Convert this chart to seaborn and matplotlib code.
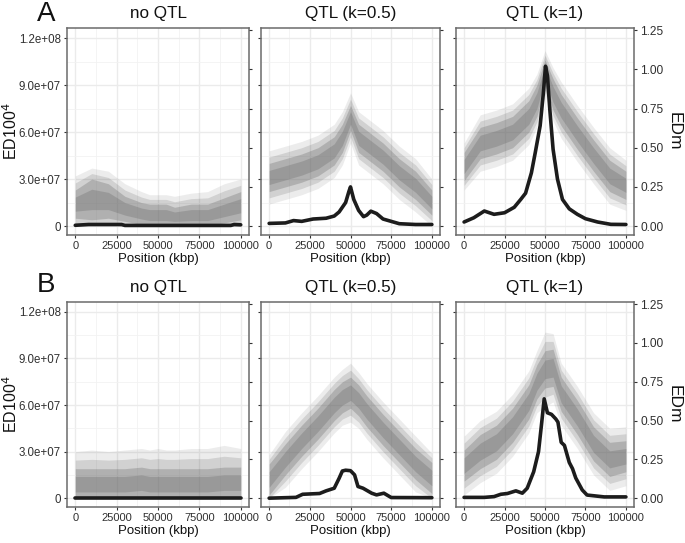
"""ED100^4 scatter clouds and EDm curves along the genome, with and without a QTL."""

import matplotlib.pyplot as plt
import numpy as np
import pandas as pd
import seaborn as sns
from matplotlib.ticker import FixedLocator

W, H = 685, 543
SCALE = 1e8  # ED100^4 values below are stored divided by 1e8

sns.set_theme(style="whitegrid")
plt.rcParams["font.family"] = ["Liberation Sans", "DejaVu Sans"]

titles = ["no QTL", "QTL (k=0.5)", "QTL (k=1)"]
rows = ["A", "B"]

# cloud of ED100^4 points: centre, dense half-width, outer half-width (/1e8)
cloud_x = [0, 10000, 20000, 30000, 40000, 45000, 50000, 55000, 60000, 70000, 80000, 90000, 100000]

a1_mid = [0.14, 0.17, 0.16, 0.11, 0.08, 0.07, 0.07, 0.07, 0.06, 0.07, 0.07, 0.10, 0.13]
a1_in = [0.09, 0.13, 0.11, 0.08, 0.07, 0.07, 0.07, 0.07, 0.06, 0.07, 0.07, 0.08, 0.09]
a1_out = [0.18, 0.20, 0.19, 0.16, 0.14, 0.13, 0.13, 0.13, 0.13, 0.14, 0.15, 0.17, 0.17]

a2_mid = [0.31, 0.34, 0.37, 0.41, 0.48, 0.56, 0.69, 0.56, 0.52, 0.44, 0.34, 0.26, 0.15]
a2_in = [0.09, 0.09, 0.09, 0.09, 0.09, 0.09, 0.08, 0.09, 0.09, 0.09, 0.09, 0.09, 0.08]
a2_out = [0.17, 0.17, 0.17, 0.17, 0.17, 0.17, 0.16, 0.17, 0.17, 0.17, 0.17, 0.17, 0.15]

a3_mid = [0.38, 0.53, 0.56, 0.60, 0.70, 0.80, 0.98, 0.84, 0.74, 0.59, 0.45, 0.32, 0.26]
a3_in = [0.09, 0.10, 0.10, 0.10, 0.10, 0.10, 0.08, 0.10, 0.10, 0.10, 0.10, 0.10, 0.09]
a3_out = [0.15, 0.18, 0.18, 0.18, 0.18, 0.17, 0.14, 0.17, 0.18, 0.18, 0.18, 0.18, 0.16]

b1_mid = [0.09, 0.09, 0.09, 0.09, 0.10, 0.09, 0.09, 0.09, 0.09, 0.09, 0.09, 0.10, 0.10]
b1_in = [0.10, 0.10, 0.10, 0.10, 0.10, 0.10, 0.10, 0.10, 0.10, 0.10, 0.10, 0.10, 0.10]
b1_out = [0.21, 0.22, 0.21, 0.22, 0.22, 0.22, 0.23, 0.22, 0.22, 0.23, 0.23, 0.24, 0.22]

b2_mid = [0.12, 0.25, 0.37, 0.48, 0.60, 0.65, 0.68, 0.63, 0.56, 0.44, 0.33, 0.22, 0.13]
b2_in = [0.10, 0.10, 0.10, 0.10, 0.10, 0.10, 0.10, 0.10, 0.10, 0.10, 0.10, 0.10, 0.10]
b2_out = [0.16, 0.18, 0.18, 0.18, 0.18, 0.18, 0.19, 0.18, 0.18, 0.18, 0.18, 0.18, 0.16]

b3_mid = [0.21, 0.30, 0.36, 0.47, 0.62, 0.75, 0.83, 0.84, 0.67, 0.52, 0.35, 0.25, 0.27]
b3_in = [0.10, 0.11, 0.11, 0.11, 0.11, 0.11, 0.12, 0.12, 0.11, 0.11, 0.11, 0.11, 0.10]
b3_out = [0.19, 0.20, 0.20, 0.20, 0.20, 0.20, 0.24, 0.22, 0.20, 0.20, 0.20, 0.20, 0.19]

# EDm curves
a1_x = [0, 8000, 28000, 30000, 94000, 96000, 100000]
a1_y = [0.005, 0.01, 0.01, 0.004, 0.004, 0.01, 0.008]

a2_x = [0, 10000, 15000, 20000, 27000, 35000, 40000, 43000, 47000, 49000, 50000,
        52000, 55000, 58000, 60000, 62500, 66000, 70000, 75000, 80000, 90000, 100000]
a2_y = [0.017, 0.02, 0.035, 0.03, 0.045, 0.05, 0.064, 0.09, 0.15, 0.22, 0.25,
        0.17, 0.10, 0.06, 0.07, 0.095, 0.08, 0.045, 0.03, 0.015, 0.01, 0.01]

a3_x = [0, 6000, 12500, 18500, 25000, 31000, 35000, 38000, 41600, 44000, 47000, 49000,
        50300, 51500, 53000, 55000, 57700, 60800, 65000, 70000, 75000, 82500, 90700, 100000]
a3_y = [0.026, 0.053, 0.096, 0.075, 0.085, 0.12, 0.17, 0.21, 0.34, 0.47, 0.64, 0.85,
        1.02, 0.96, 0.74, 0.49, 0.30, 0.17, 0.11, 0.075, 0.047, 0.026, 0.011, 0.01]

b1_x = [0, 100000]
b1_y = [0.003, 0.003]

b2_x = [0, 16500, 20600, 31000, 35000, 40000, 43000, 45000, 47000, 50000, 52500,
        54600, 57700, 63000, 66000, 70500, 75000, 100000]
b2_y = [0.0, 0.005, 0.025, 0.03, 0.047, 0.064, 0.128, 0.175, 0.18, 0.177, 0.15,
        0.075, 0.064, 0.032, 0.021, 0.032, 0.004, 0.003]

b3_x = [0, 12500, 18500, 22700, 26800, 32000, 36000, 39000, 43000, 46000, 48000, 49500,
        51500, 54000, 56700, 58000, 60000, 62000, 65000, 67000, 69000, 73000, 76000, 86600, 100000]
b3_y = [0.005, 0.005, 0.01, 0.025, 0.03, 0.047, 0.032, 0.064, 0.17, 0.30, 0.49, 0.64,
        0.55, 0.54, 0.51, 0.49, 0.36, 0.34, 0.23, 0.19, 0.13, 0.053, 0.02, 0.008, 0.008]

clouds = [[(a1_mid, a1_in, a1_out), (a2_mid, a2_in, a2_out), (a3_mid, a3_in, a3_out)],
          [(b1_mid, b1_in, b1_out), (b2_mid, b2_in, b2_out), (b3_mid, b3_in, b3_out)]]
curves = [[(a1_x, a1_y), (a2_x, a2_y), (a3_x, a3_y)],
          [(b1_x, b1_y), (b2_x, b2_y), (b3_x, b3_y)]]

left_ticks = [0, 3e7, 6e7, 9e7, 1.2e8]
left_labels = ["0", "3.0e+07", "6.0e+07", "9.0e+07", "1.2e+08"]
right_ticks = [0, 0.25, 0.5, 0.75, 1.0, 1.25]
x_ticks = [0, 25000, 50000, 75000, 100000]

YLIM = (-0.057e8, 1.264e8)
XLIM = (-5000, 105000)

# panel boxes in pixels: (left, right), (top, bottom)
cols_px = [(67, 249), (261, 440), (456, 634)]
rows_px = [(28, 235), (302, 507)]

fig = plt.figure(figsize=(W / 100, H / 100), dpi=100)
edge = "#6b6b6b"
tick_col = "#333333"
cloud_col = "#666666"

for r, (top, bot) in enumerate(rows_px):
    for c, (lft, rgt) in enumerate(cols_px):
        ax = fig.add_axes([lft / W, 1 - bot / H, (rgt - lft) / W, (bot - top) / H])
        mid, w_in, w_out = (np.array(v) for v in clouds[r][c])
        xs = np.array(cloud_x)
        # soft shading: sparse fringe -> dense core
        for w, a in [(w_out, 0.12), ((w_in + w_out) / 2, 0.2), (w_in, 0.3), (w_in / 2, 0.3)]:
            ax.fill_between(xs, np.clip(mid - w, 0, None) * SCALE, (mid + w) * SCALE,
                            color=cloud_col, alpha=a, lw=0, zorder=2)
        ax.set_xlim(XLIM)
        ax.set_ylim(YLIM)
        ax.xaxis.set_major_locator(FixedLocator(x_ticks))
        ax.xaxis.set_minor_locator(FixedLocator([12500, 37500, 62500, 87500]))
        ax.yaxis.set_major_locator(FixedLocator(left_ticks))
        ax.yaxis.set_minor_locator(FixedLocator([1.5e7, 4.5e7, 7.5e7, 1.05e8]))
        ax.set_yticklabels(left_labels if c == 0 else [])
        ax.set_xticklabels([str(t) for t in x_ticks])
        ax.grid(which="major", color="#ebebeb", lw=1.0)
        ax.grid(which="minor", color="#f2f2f2", lw=0.6)
        ax.set_axisbelow(True)
        ax.set_facecolor("white")
        for s in ax.spines.values():
            s.set_visible(True)
            s.set_color(edge)
            s.set_linewidth(1.1)
        ax.tick_params(axis="both", which="major", length=2.5, width=0.8, color=tick_col,
                       pad=2, left=True, bottom=True, labelcolor="#303030")
        ax.tick_params(axis="x", labelsize=8)
        ax.tick_params(axis="y", labelsize=8.3)
        ax.tick_params(which="minor", length=0)
        ax.set_xlabel("Position (kbp)", fontsize=9.5, labelpad=1, color="#111111")
        if c == 0:
            ax.set_ylabel("ED100$^4$", fontsize=11.5, color="#111111")
            ax.yaxis.set_label_coords(-0.258, 0.5)
        else:
            ax.set_ylabel("")
        ax.set_title(titles[c], fontsize=12.3, pad=7, color="#111111")

        ax2 = ax.twinx()
        ax2.set_ylim(YLIM[0] / SCALE, YLIM[1] / SCALE)
        ax2.grid(False)
        ax2.yaxis.set_major_locator(FixedLocator(right_ticks))
        ax2.set_yticklabels(["0.00", "0.25", "0.50", "0.75", "1.00", "1.25"] if c == 2 else [])
        ax2.tick_params(axis="y", length=2.5, width=0.8, color=tick_col, pad=2,
                        labelsize=8.6, labelcolor="#303030", right=True)
        for s in ax2.spines.values():
            s.set_visible(False)
        cx, cy = curves[r][c]
        df = pd.DataFrame({"pos": cx, "EDm": cy})
        sns.lineplot(data=df, x="pos", y="EDm", ax=ax2, color="#1c1c1c", lw=2.6,
                     zorder=5)
        ax2.set_xlabel("")
        if c == 2:
            ax2.set_ylabel("EDm", fontsize=12.5, rotation=270, labelpad=13, color="#111111")
        else:
            ax2.set_ylabel("")

for lab, ypx in zip(rows, [21, 292]):
    fig.text(46 / W, 1 - ypx / H, lab, fontsize=20, ha="center", va="baseline", color="#111111")

plt.savefig("out.png", dpi=100)
